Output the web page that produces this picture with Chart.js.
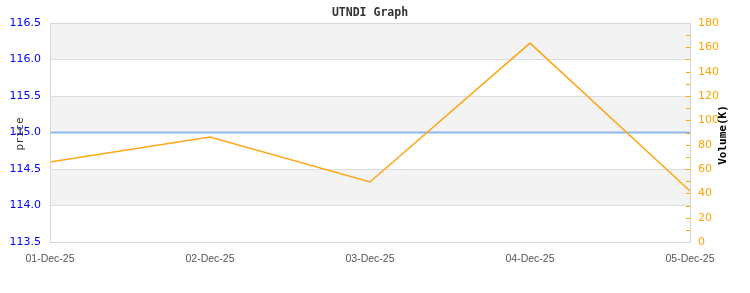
<!DOCTYPE html>
<html><head><meta charset="utf-8">
<script src="https://cdn.jsdelivr.net/npm/chart.js@4/dist/chart.umd.min.js"></script>
<style>html,body{margin:0;padding:0;background:#fff;}canvas{display:block;}</style>
</head><body>
<canvas id="c" width="750" height="293"></canvas>
<script>
const categories = ['01-Dec-25','02-Dec-25','03-Dec-25','04-Dec-25','05-Dec-25'];
const priceValues = [115.0, 115.0, 115.0, 115.0, 115.0];
const volumeValues = [65.7, 86.3, 49.3, 163.5, 41.9];
const priceTicks = [113.5, 114.0, 114.5, 115.0, 115.5, 116.0, 116.5];
const volumeTicks = [0, 20, 40, 60, 80, 100, 120, 140, 160, 180];

const deco = {
  id: 'deco',
  beforeDraw(chart) {
    const {ctx, chartArea: a, scales} = chart;
    ctx.save();
    ctx.fillStyle = '#fff';
    ctx.fillRect(0, 0, chart.width, chart.height);
    ctx.fillStyle = '#f3f3f3';
    for (let i = 0; i < priceTicks.length - 1; i++) {
      if ((priceTicks.length - 2 - i) % 2 === 0) {
        const y1 = scales.y.getPixelForValue(priceTicks[i + 1]);
        const y2 = scales.y.getPixelForValue(priceTicks[i]);
        ctx.fillRect(a.left, y1, a.right - a.left, y2 - y1);
      }
    }
    ctx.restore();
  },
  afterDraw(chart) {
    const {ctx, chartArea: a, scales} = chart;
    ctx.save();
    ctx.strokeStyle = '#d6d6d6';
    ctx.lineWidth = 1;
    ctx.strokeRect(Math.round(a.left) + 0.5, Math.round(a.top) + 0.5, Math.round(a.right - a.left), Math.round(a.bottom - a.top));
    ctx.strokeStyle = '#ffa500';
    for (let v = 10; v < 180; v += 10) {
      const y = Math.round(scales.y1.getPixelForValue(v)) + 0.5;
      ctx.beginPath(); ctx.moveTo(a.right - 4, y); ctx.lineTo(a.right, y); ctx.stroke();
    }
    ctx.fillStyle = '#333';
    ctx.textAlign = 'center';
    ctx.textBaseline = 'middle';
    ctx.font = 'bold 11.5px "DejaVu Sans Mono"';
    ctx.fillText('UTNDI Graph', (a.left + a.right) / 2, 13);
    ctx.save();
    ctx.translate(20, 134);
    ctx.rotate(-Math.PI / 2);
    ctx.font = '11px "DejaVu Sans Mono"';
    ctx.fillStyle = '#333';
    ctx.fillText('price', 0, 0);
    ctx.restore();
    ctx.save();
    ctx.translate(723, 135);
    ctx.rotate(-Math.PI / 2);
    ctx.font = 'bold 11px "DejaVu Sans Mono"';
    ctx.fillStyle = '#000';
    ctx.fillText('Volume(K)', 0, 0);
    ctx.restore();
    ctx.restore();
  }
};

new Chart(document.getElementById('c'), {
  type: 'line',
  data: {
    labels: categories,
    datasets: [
      { label: 'Volume', data: volumeValues, yAxisID: 'y1', borderColor: '#ffa617', borderWidth: 1.5, pointRadius: 0, tension: 0, fill: false },
      { label: 'price', data: priceValues, yAxisID: 'y', borderColor: '#8db8ec', borderWidth: 2, pointRadius: 0, tension: 0, fill: false }
    ]
  },
  options: {
    responsive: false,
    animation: false,
    layout: { padding: { top: 23, left: 0, right: 0, bottom: 0 } },
    plugins: { legend: { display: false }, title: { display: false }, tooltip: { enabled: false } },
    scales: {
      x: {
        type: 'category', offset: false,
        grid: { display: false }, border: { display: false },
        ticks: { color: '#555', font: { family: '"Liberation Sans"', size: 10.5 }, maxRotation: 0, autoSkip: false, padding: 3 },
        afterFit(s) { s.height = 51; }
      },
      y: {
        position: 'left', min: 113.5, max: 116.5,
        afterBuildTicks(s) { s.ticks = priceTicks.map(v => ({ value: v })); },
        grid: { color: '#dedede', drawTicks: false }, border: { display: false },
        ticks: { color: '#0000ff', font: { family: '"DejaVu Sans"', size: 11 }, padding: 9, callback: v => Number(v).toFixed(1) },
        afterFit(s) { s.width = 50; }
      },
      y1: {
        position: 'right', min: 0, max: 180,
        afterBuildTicks(s) { s.ticks = volumeTicks.map(v => ({ value: v })); },
        grid: { drawOnChartArea: false, drawTicks: false }, border: { display: false },
        ticks: { color: '#ffa500', font: { family: '"DejaVu Sans"', size: 11 }, padding: 8 },
        afterFit(s) { s.width = 60; }
      }
    }
  },
  plugins: [deco]
});
</script>
</body></html>
